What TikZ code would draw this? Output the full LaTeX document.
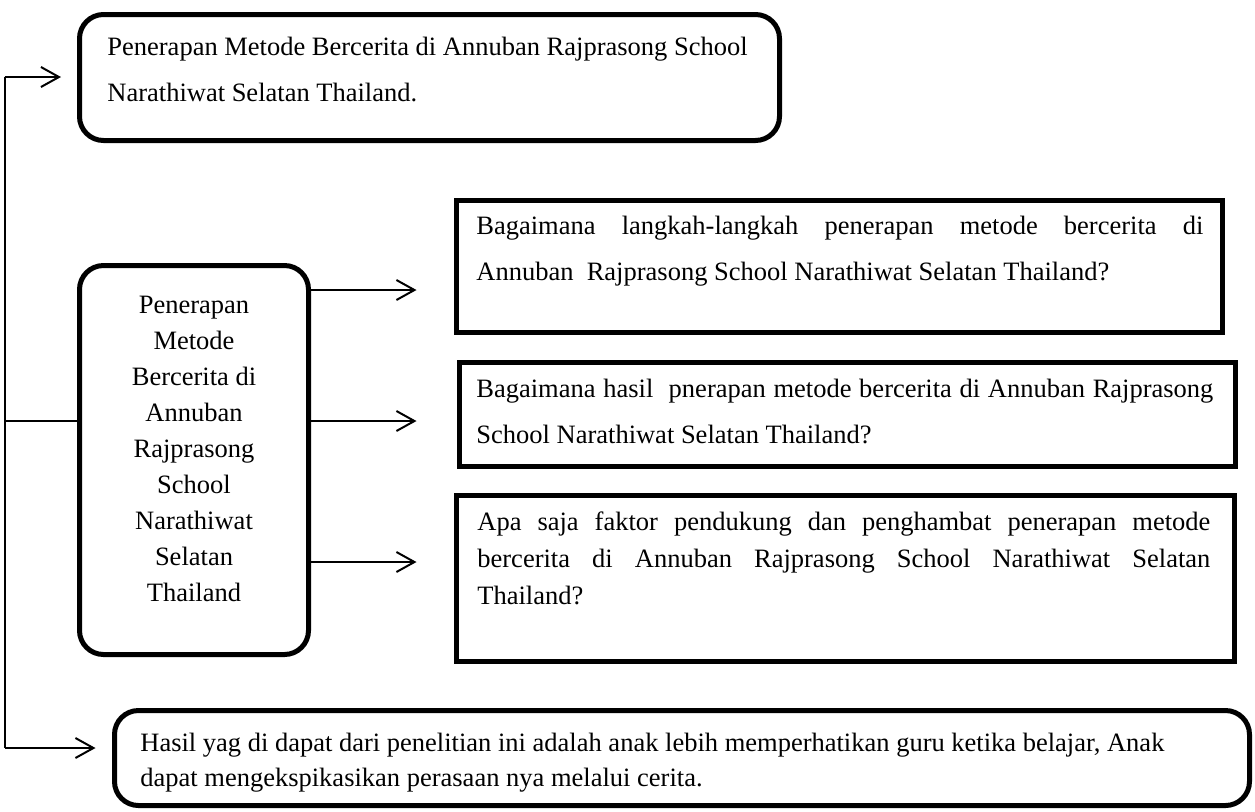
\documentclass[tikz,border=0pt]{standalone}
\usepackage{fontspec}
\setmainfont{Liberation Serif}
\usetikzlibrary{arrows.meta}

\tikzset{
  kotak/.style={draw, line width=2.5pt, inner sep=0pt},
  bulat/.style={kotak, rounded corners=12pt},
  teks/.style={inner sep=0pt, anchor=base west, align=flush left, font=\fontsize{13.25}{23}\selectfont},
  garis/.style={line width=1pt},
  panah/.style={garis, -{Straight Barb[length=9pt,width=10pt]}}
}
\newcommand{\penuh}[1]{\makebox[\linewidth][s]{\spaceskip=0.25em plus 1fil\relax #1}}

\begin{document}
\begin{tikzpicture}[x=0.5pt, y=-0.5pt]
\useasboundingbox (0,0) rectangle (1255,811);
\node[bulat, minimum width=350pt, minimum height=63pt] (P_0_0) at (429.5,77.5) {};
\node[teks, text width=340pt] (T_0_0) at (107,55) {Penerapan Metode Bercerita di Annuban Rajprasong School\\Narathiwat Selatan Thailand.};
\node[bulat, minimum width=114.5pt, minimum height=194.5pt] (P_0_1) at (194,460) {};
\node[teks, anchor=base, align=flush center, text width=110pt, font=\fontsize{13.25}{18}\selectfont] (T_0_1) at (194,313) {Penerapan\\Metode\\Bercerita di\\Annuban\\Rajprasong\\School\\Narathiwat\\Selatan\\Thailand};
\node[kotak, minimum width=383pt, minimum height=66pt] (P_1_0) at (839.5,266.5) {};
\node[teks, text width=363.5pt] (T_1_0) at (476,234) {\penuh{Bagaimana langkah-langkah penerapan metode bercerita di}\\Annuban\ \ Rajprasong School Narathiwat Selatan Thailand?};
\node[kotak, minimum width=388pt, minimum height=52pt] (P_1_1) at (847.5,414.5) {};
\node[teks, text width=368.5pt] (T_1_1) at (476,397) {\penuh{Bagaimana hasil\ \ pnerapan metode bercerita di Annuban Rajprasong}\\School Narathiwat Selatan Thailand?};
\node[kotak, minimum width=389pt, minimum height=83pt] (P_1_2) at (845.5,578.5) {};
\node[teks, text width=366.5pt, font=\fontsize{13.25}{18.5}\selectfont] (T_1_2) at (477,530) {\penuh{Apa saja faktor pendukung dan penghambat penerapan metode}\\\penuh{bercerita di Annuban Rajprasong School Narathiwat Selatan}\\Thailand?};
\node[bulat, minimum width=567.5pt, minimum height=47.5pt] (P_0_2) at (682,758) {};
\node[teks, text width=540pt, font=\fontsize{13.25}{17.5}\selectfont] (T_0_2) at (140,751) {Hasil yag di dapat dari penelitian ini adalah anak lebih memperhatikan guru ketika belajar, Anak\\dapat mengekspikasikan perasaan nya melalui cerita.};
\coordinate (A_atas) at (4.5,77);
\coordinate (A_tengah) at (4.5,421);
\coordinate (A_bawah) at (4.5,748);
\draw[garis] (A_atas) -- (A_bawah);
\draw[panah, shorten >=8pt] (A_atas) -- (A_atas -| P_0_0.west);
\draw[garis] (A_tengah) -- (A_tengah -| P_0_1.west);
\draw[panah, shorten >=8.25pt] (A_bawah) -- (A_bawah -| P_0_2.west);
\draw[panah, shorten >=18.75pt] (P_0_1.east |- 0,290) -- (P_1_0.west |- 0,290);
\draw[panah, shorten >=20.25pt] (P_0_1.east |- 0,421) -- (P_1_1.west |- 0,421);
\draw[panah, shorten >=18.75pt] (P_0_1.east |- 0,562) -- (P_1_2.west |- 0,562);
\end{tikzpicture}
\end{document}
